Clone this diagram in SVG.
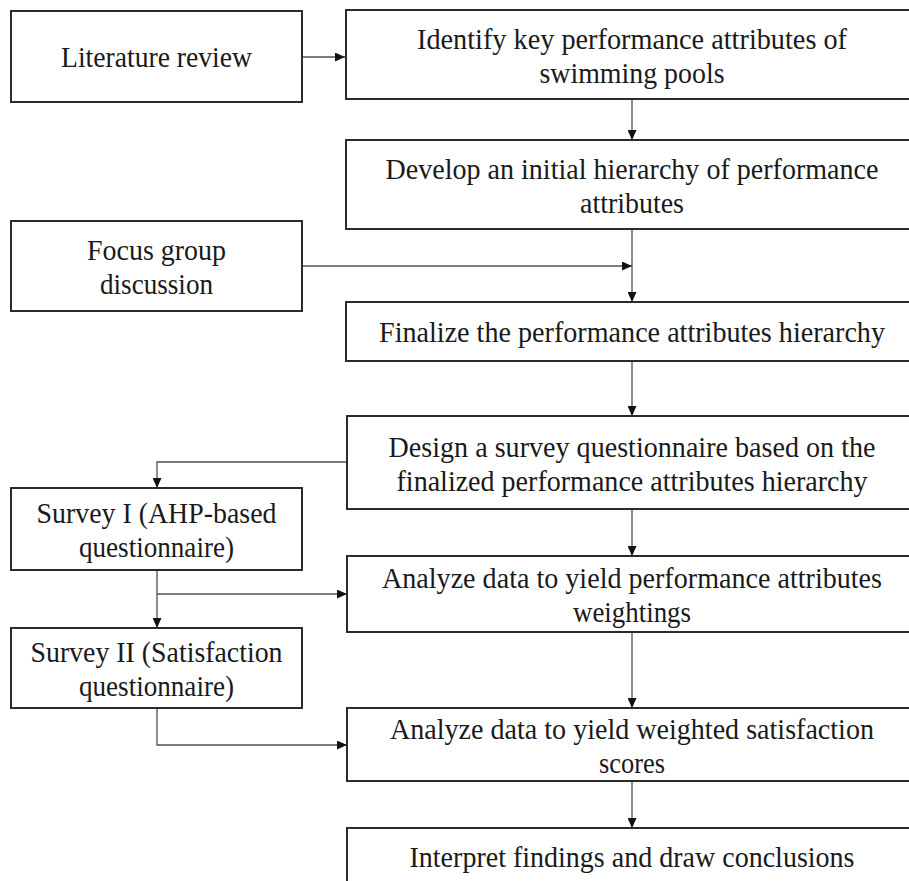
<svg xmlns="http://www.w3.org/2000/svg" width="909" height="881" viewBox="0 0 909 881">
<defs>
<style>
.box{fill:#ffffff;stroke:#2b2b2b;stroke-width:2}
.t{font-family:"Liberation Serif","Times New Roman",serif;font-size:29px;fill:#1a1a1a;text-anchor:middle}
.c{fill:none;stroke:#505050;stroke-width:1.3}
</style>
<marker id="ah" markerUnits="userSpaceOnUse" markerWidth="10" markerHeight="9" refX="10" refY="4.5" orient="auto">
<path d="M0,0 L10,4.5 L0,9 z" fill="#111111"/>
</marker>
</defs>
<rect x="0" y="0" width="909" height="881" fill="#ffffff"/>
<g id="connectors">
<line class="c" x1="302" y1="57" x2="345" y2="57" marker-end="url(#ah)"/>
<line class="c" x1="632" y1="99" x2="632" y2="140" marker-end="url(#ah)"/>
<line class="c" x1="302" y1="266" x2="632" y2="266" marker-end="url(#ah)"/>
<line class="c" x1="632" y1="229" x2="632" y2="302" marker-end="url(#ah)"/>
<line class="c" x1="632" y1="361" x2="632" y2="416" marker-end="url(#ah)"/>
<path class="c" d="M347,462 H157 V488" marker-end="url(#ah)"/>
<line class="c" x1="632" y1="509" x2="632" y2="556" marker-end="url(#ah)"/>
<line class="c" x1="157" y1="570" x2="157" y2="628" marker-end="url(#ah)"/>
<path class="c" d="M157,594 H347" marker-end="url(#ah)"/>
<line class="c" x1="632" y1="632" x2="632" y2="708" marker-end="url(#ah)"/>
<path class="c" d="M157,708 V745 H347" marker-end="url(#ah)"/>
<line class="c" x1="632" y1="781" x2="632" y2="828" marker-end="url(#ah)"/>
</g>
<g id="literature">
<rect class="box" x="11" y="11" width="291" height="91"/>
<text class="t" x="156.5" y="67" textLength="191" lengthAdjust="spacingAndGlyphs">Literature review</text>
</g>
<g id="identify">
<rect class="box" x="346" y="10" width="572" height="89"/>
<text class="t" x="632" y="49" textLength="430" lengthAdjust="spacingAndGlyphs">Identify key performance attributes of</text>
<text class="t" x="632" y="83" textLength="185" lengthAdjust="spacingAndGlyphs">swimming pools</text>
</g>
<g id="develop">
<rect class="box" x="346" y="140" width="572" height="89"/>
<text class="t" x="632" y="179" textLength="493" lengthAdjust="spacingAndGlyphs">Develop an initial hierarchy of performance</text>
<text class="t" x="632" y="213" textLength="104" lengthAdjust="spacingAndGlyphs">attributes</text>
</g>
<g id="focus">
<rect class="box" x="11" y="221" width="291" height="90"/>
<text class="t" x="156.5" y="260" textLength="139" lengthAdjust="spacingAndGlyphs">Focus group</text>
<text class="t" x="156.5" y="294" textLength="113" lengthAdjust="spacingAndGlyphs">discussion</text>
</g>
<g id="finalize">
<rect class="box" x="346" y="302" width="572" height="59"/>
<text class="t" x="632" y="342" textLength="506" lengthAdjust="spacingAndGlyphs">Finalize the performance attributes hierarchy</text>
</g>
<g id="design">
<rect class="box" x="347" y="416" width="571" height="93"/>
<text class="t" x="632" y="457" textLength="487" lengthAdjust="spacingAndGlyphs">Design a survey questionnaire based on the</text>
<text class="t" x="632" y="491" textLength="471" lengthAdjust="spacingAndGlyphs">finalized performance attributes hierarchy</text>
</g>
<g id="survey1">
<rect class="box" x="11" y="488" width="291" height="82"/>
<text class="t" x="156.5" y="523" textLength="240" lengthAdjust="spacingAndGlyphs">Survey I (AHP-based</text>
<text class="t" x="156.5" y="557" textLength="155" lengthAdjust="spacingAndGlyphs">questionnaire)</text>
</g>
<g id="analyze1">
<rect class="box" x="347" y="556" width="571" height="76"/>
<text class="t" x="632" y="588" textLength="500" lengthAdjust="spacingAndGlyphs">Analyze data to yield performance attributes</text>
<text class="t" x="632" y="622" textLength="118" lengthAdjust="spacingAndGlyphs">weightings</text>
</g>
<g id="survey2">
<rect class="box" x="11" y="628" width="291" height="80"/>
<text class="t" x="156.5" y="662" textLength="252" lengthAdjust="spacingAndGlyphs">Survey II (Satisfaction</text>
<text class="t" x="156.5" y="696" textLength="155" lengthAdjust="spacingAndGlyphs">questionnaire)</text>
</g>
<g id="analyze2">
<rect class="box" x="347" y="708" width="571" height="73"/>
<text class="t" x="632" y="739" textLength="484" lengthAdjust="spacingAndGlyphs">Analyze data to yield weighted satisfaction</text>
<text class="t" x="632" y="773" textLength="66" lengthAdjust="spacingAndGlyphs">scores</text>
</g>
<g id="interpret">
<rect class="box" x="347" y="828" width="571" height="60"/>
<text class="t" x="632" y="867" textLength="445" lengthAdjust="spacingAndGlyphs">Interpret findings and draw conclusions</text>
</g>
</svg>
